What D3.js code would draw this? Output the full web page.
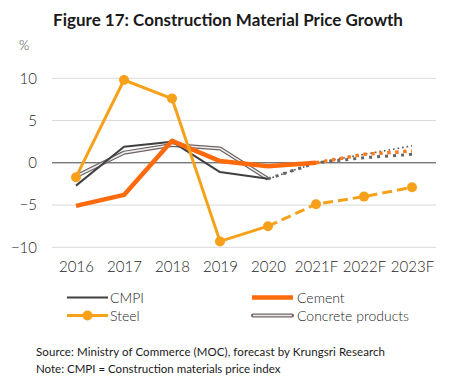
<!DOCTYPE html>
<html>
<head>
<meta charset="utf-8">
<script src="https://cdn.jsdelivr.net/npm/d3@7"></script>
<style>
  body { margin: 0; background: #fff; }
  svg { display: block; font-family: Lato, "Open Sans", sans-serif; }
</style>
</head>
<body>
<div id="chart"></div>
<script>
const categories = ['2016', '2017', '2018', '2019', '2020', '2021F', '2022F', '2023F'];
const cmpi = [-2.7, 1.9, 2.5, -1.1, -1.9, 0.0, 0.6, 1.0];
const cement = [-5.1, -3.8, 2.6, 0.2, -0.4, 0.0, 1.0, 1.4];
const steel = [-1.7, 9.8, 7.6, -9.3, -7.5, -4.9, -4.0, -2.9];
const concrete = [-1.6, 1.2, 2.1, 1.7, -1.9, 0.0, 1.0, 2.0];
const yTicks = [-10, -5, 0, 5, 10];

const W = 449, H = 387;
const svg = d3.select('#chart').append('svg')
    .attr('width', W)
    .attr('height', H);

const x = d3.scalePoint()
    .domain(categories)
    .range([52, 436])
    .padding(0.5);

const y = d3.scaleLinear()
    .domain([-10, 10])
    .range([247.3, 78.3]);

// title + unit
svg.append('text')
    .attr('x', 228).attr('y', 26)
    .attr('text-anchor', 'middle')
    .attr('font-size', 17).attr('font-weight', 'bold')
    .attr('fill', '#1a1a1a')
    .text('Figure 17: Construction Material Price Growth');

svg.append('text')
    .attr('x', 19).attr('y', 50)
    .attr('font-size', 13).attr('font-weight', 300).attr('fill', '#404040')
    .text('%');

// grid
svg.append('g')
    .selectAll('line')
    .data(yTicks)
    .join('line')
    .attr('x1', 52).attr('x2', 436)
    .attr('y1', d => y(d)).attr('y2', d => y(d))
    .attr('stroke', d => d === 0 ? '#404040' : '#d9d9d9')
    .attr('stroke-width', 1);

// axes (labels only)
const yAxis = svg.append('g')
    .attr('transform', 'translate(37,0)')
    .call(d3.axisLeft(y).tickValues(yTicks).tickSize(0).tickPadding(0));
yAxis.select('.domain').remove();
yAxis.selectAll('text')
    .attr('font-size', 15).attr('font-weight', 300).attr('fill', '#262626')
    .attr('font-family', 'Lato, sans-serif');

const xAxis = svg.append('g')
    .attr('transform', 'translate(0,261)')
    .call(d3.axisBottom(x).tickSize(0).tickPadding(0));
xAxis.select('.domain').remove();
xAxis.selectAll('text')
    .attr('font-size', 15).attr('font-weight', 300).attr('fill', '#262626')
    .attr('font-family', 'Lato, sans-serif');

const line = d3.line()
    .x(d => x(d.c))
    .y(d => y(d.v));

function pts(vals, from, to) {
    return vals.map((v, i) => ({ c: categories[i], v })).slice(from, to + 1);
}

const plot = svg.append('g').attr('fill', 'none').attr('stroke-linejoin', 'round');

// concrete products (double line)
plot.append('path').attr('d', line(pts(concrete, 0, 4)))
    .attr('stroke', '#6f6363').attr('stroke-width', 4);
plot.append('path').attr('d', line(pts(concrete, 0, 4)))
    .attr('stroke', '#eeeeee').attr('stroke-width', 1.6);
plot.append('path').attr('d', line(pts(concrete, 4, 7)))
    .attr('stroke', '#555').attr('stroke-width', 1.6)
    .attr('stroke-dasharray', '1.6 3');

// CMPI
plot.append('path').attr('d', line(pts(cmpi, 0, 4)))
    .attr('stroke', '#404040').attr('stroke-width', 2);
plot.append('path').attr('d', line(pts(cmpi, 4, 7)))
    .attr('stroke', '#666').attr('stroke-width', 3)
    .attr('stroke-dasharray', '3 5');

// cement
plot.append('path').attr('d', line(pts(cement, 0, 5)))
    .attr('stroke', '#ff6a0d').attr('stroke-width', 4.5);
plot.append('path').attr('d', line(pts(cement, 5, 7)))
    .attr('stroke', '#ff7a1f').attr('stroke-width', 3.5)
    .attr('stroke-dasharray', '3.5 4.5');

// steel
plot.append('path').attr('d', line(pts(steel, 0, 4)))
    .attr('stroke', '#f7a11a').attr('stroke-width', 3);
plot.append('path').attr('d', line(pts(steel, 4, 7)))
    .attr('stroke', '#f7a11a').attr('stroke-width', 3)
    .attr('stroke-dasharray', '10 5');
plot.selectAll('circle')
    .data(pts(steel, 0, 7))
    .join('circle')
    .attr('cx', d => x(d.c)).attr('cy', d => y(d.v))
    .attr('r', 5)
    .attr('fill', '#f7a11a').attr('stroke', 'none');

// legend
const leg = svg.append('g').attr('font-size', 14).attr('font-weight', 300).attr('fill', '#262626');

leg.append('line').attr('x1', 67).attr('x2', 108).attr('y1', 297.5).attr('y2', 297.5)
    .attr('stroke', '#404040').attr('stroke-width', 2);
leg.append('text').attr('x', 110).attr('y', 302.5).text('CMPI');

leg.append('line').attr('x1', 67).attr('x2', 108).attr('y1', 315.5).attr('y2', 315.5)
    .attr('stroke', '#f7a11a').attr('stroke-width', 3);
leg.append('circle').attr('cx', 87.5).attr('cy', 315.5).attr('r', 5).attr('fill', '#f7a11a');
leg.append('text').attr('x', 110).attr('y', 320.5).text('Steel');

leg.append('line').attr('x1', 252).attr('x2', 293).attr('y1', 297.5).attr('y2', 297.5)
    .attr('stroke', '#ff6a0d').attr('stroke-width', 4.5);
leg.append('text').attr('x', 297).attr('y', 302.5).text('Cement');

leg.append('line').attr('x1', 253).attr('x2', 292).attr('y1', 315.5).attr('y2', 315.5)
    .attr('stroke', '#6f6363').attr('stroke-width', 4).attr('stroke-linecap', 'round');
leg.append('line').attr('x1', 253).attr('x2', 292).attr('y1', 315.5).attr('y2', 315.5)
    .attr('stroke', '#eeeeee').attr('stroke-width', 1.6);
leg.append('text').attr('x', 297).attr('y', 320.5).text('Concrete products');

// notes
svg.append('text').attr('x', 36).attr('y', 356)
    .attr('font-size', 11.5).attr('fill', '#1a1a1a')
    .attr('textLength', 349).attr('lengthAdjust', 'spacing')
    .text('Source: Ministry of Commerce (MOC), forecast by Krungsri Research');
svg.append('text').attr('x', 36).attr('y', 373)
    .attr('font-size', 11.5).attr('fill', '#1a1a1a')
    .text('Note: CMPI = Construction materials price index');
</script>
</body>
</html>
